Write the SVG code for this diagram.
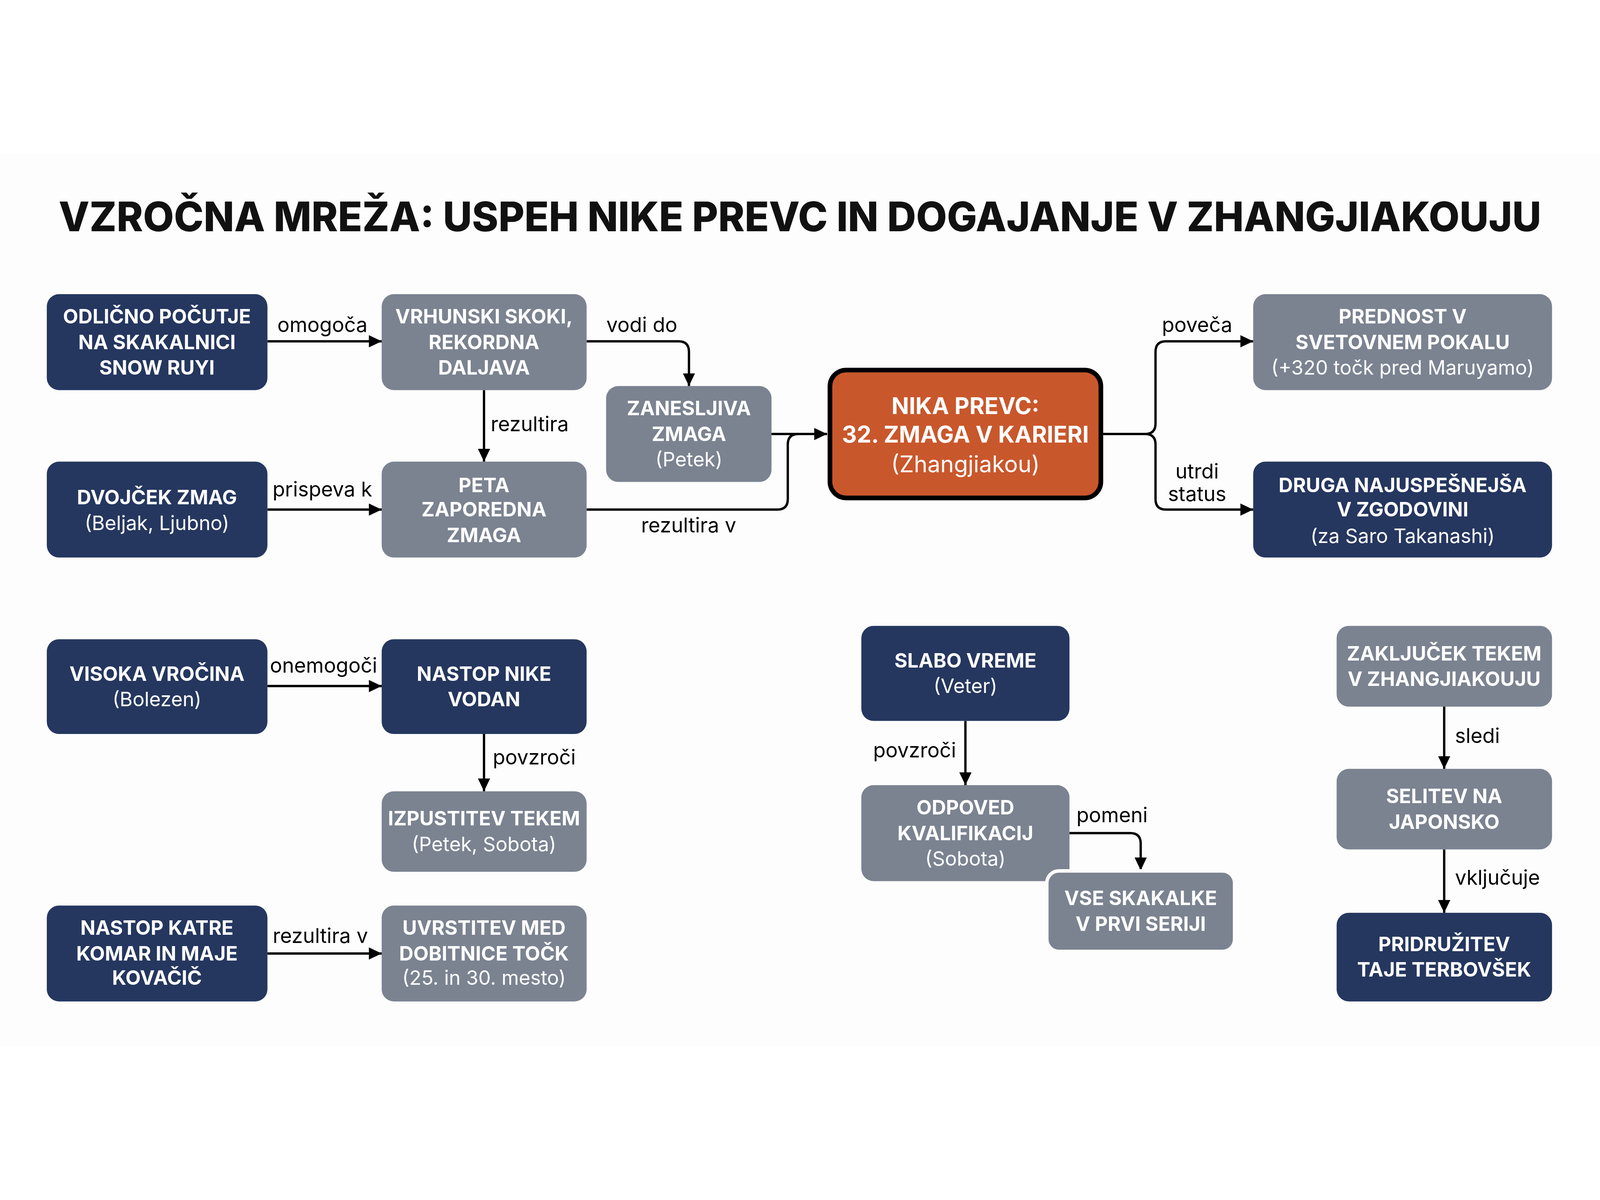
<svg xmlns="http://www.w3.org/2000/svg" width="5504" height="3072" viewBox="0 0 5504 3072">
<defs>
<marker id="ah" markerUnits="userSpaceOnUse" markerWidth="46" markerHeight="42" refX="44" refY="21" orient="auto">
<path d="M0,0 L44,21 L0,42 z" fill="#000"/>
</marker>
<style>
:root{width:100vw;height:100vh}
.navy{fill:#25375f}
.gray{fill:#7b8391}
.t{font-family:Inter,"Liberation Sans",sans-serif;font-size:68px;fill:#fff;text-anchor:middle}
.b{font-weight:700}
.r{font-weight:400}
.t.big{font-size:79px}
.lbl{font-family:Inter,"Liberation Sans",sans-serif;font-size:70px;fill:#000;font-weight:400}
.c{fill:none;stroke:#000;stroke-width:8;marker-end:url(#ah)}
.cn{fill:none;stroke:#000;stroke-width:8}
</style>
</defs>
<rect width="5504" height="3072" fill="#fdfdfd"/>
<text x="2752" y="268" font-family="Inter,'Liberation Sans',sans-serif" font-size="140" font-weight="800" text-anchor="middle" fill="#111" textLength="5100" lengthAdjust="spacingAndGlyphs">VZROČNA MREŽA: USPEH NIKE PREVC IN DOGAJANJE V ZHANGJIAKOUJU</text>

<g id="connectors">
<path class="c" d="M920 646 H1313"/>
<path class="c" d="M2018 646 H2334 Q2370 646 2370 682 V800"/>
<path class="c" d="M1665 814 V1060"/>
<path class="c" d="M920 1225 H1313"/>
<path class="c" d="M2654 965 H2845"/>
<path class="cn" d="M2018 1225 H2674 Q2710 1225 2710 1189 V1001 Q2710 965 2746 965 H2800"/>
<path class="c" d="M3795 965 H3939 Q3975 965 3975 929 V682 Q3975 646 4011 646 H4311"/>
<path class="c" d="M3939 965 Q3975 965 3975 1001 V1189 Q3975 1225 4011 1225 H4311"/>
<path class="c" d="M920 1832 H1313"/>
<path class="c" d="M1665 1997 V2194"/>
<path class="c" d="M920 2752 H1313"/>
<path class="c" d="M3321 1952 V2173"/>
<path class="c" d="M3679 2338 H3888 Q3924 2338 3924 2374 V2466"/>
<path class="c" d="M4968 1903 V2117"/>
<path class="c" d="M4968 2394 V2612"/>
<text class="lbl" x="1109" y="614" text-anchor="middle">omogoča</text>
<text class="lbl" x="2208" y="614" text-anchor="middle">vodi do</text>
<text class="lbl" x="1688" y="956">rezultira</text>
<text class="lbl" x="1109" y="1180" text-anchor="middle">prispeva k</text>
<text class="lbl" x="2369" y="1304" text-anchor="middle">rezultira v</text>
<text class="lbl" x="4118" y="614" text-anchor="middle">poveča</text>
<text class="lbl" x="4118" y="1118" text-anchor="middle">utrdi</text>
<text class="lbl" x="4118" y="1196" text-anchor="middle">status</text>
<text class="lbl" x="1113" y="1786" text-anchor="middle">onemogoči</text>
<text class="lbl" x="1695" y="2102">povzroči</text>
<text class="lbl" x="1102" y="2716" text-anchor="middle">rezultira v</text>
<text class="lbl" x="3289" y="2077" text-anchor="end">povzroči</text>
<text class="lbl" x="3703" y="2300">pomeni</text>
<text class="lbl" x="5005" y="2028">sledi</text>
<text class="lbl" x="5005" y="2516">vključuje</text>
</g>

<g id="n1">
<rect class="navy" x="161" y="484" width="759" height="330" rx="42"/>
<text class="t b" x="540" y="585">ODLIČNO POČUTJE</text>
<text class="t b" x="540" y="673">NA SKAKALNICI</text>
<text class="t b" x="540" y="761">SNOW RUYI</text>
</g>
<g id="n2">
<rect class="gray" x="1313" y="484" width="705" height="330" rx="42"/>
<text class="t b" x="1665" y="585">VRHUNSKI SKOKI,</text>
<text class="t b" x="1665" y="673">REKORDNA</text>
<text class="t b" x="1665" y="761">DALJAVA</text>
</g>
<g id="n3">
<rect class="gray" x="2085" y="800" width="569" height="330" rx="42"/>
<text class="t b" x="2370" y="901">ZANESLJIVA</text>
<text class="t b" x="2370" y="989">ZMAGA</text>
<text class="t r" x="2370" y="1077">(Petek)</text>
</g>
<g id="n4">
<rect x="2855" y="745" width="932" height="440" rx="56" fill="#c9572c" stroke="#000" stroke-width="16"/>
<text class="t b big" x="3321" y="896">NIKA PREVC:</text>
<text class="t b big" x="3321" y="994">32. ZMAGA V KARIERI</text>
<text class="t r big" x="3321" y="1096">(Zhangjiakou)</text>
</g>
<g id="n5">
<rect class="gray" x="4311" y="484" width="1028" height="330" rx="42"/>
<text class="t b" x="4825" y="585">PREDNOST V</text>
<text class="t b" x="4825" y="673">SVETOVNEM POKALU</text>
<text class="t r" x="4825" y="761">(+320 točk pred Maruyamo)</text>
</g>
<g id="n6">
<rect class="navy" x="4311" y="1060" width="1028" height="330" rx="42"/>
<text class="t b" x="4825" y="1165">DRUGA NAJUSPEŠNEJŠA</text>
<text class="t b" x="4825" y="1249">V ZGODOVINI</text>
<text class="t r" x="4825" y="1340">(za Saro Takanashi)</text>
</g>
<g id="n7">
<rect class="navy" x="161" y="1060" width="759" height="330" rx="42"/>
<text class="t b" x="540" y="1207">DVOJČEK ZMAG</text>
<text class="t r" x="540" y="1295">(Beljak, Ljubno)</text>
</g>
<g id="n8">
<rect class="gray" x="1313" y="1060" width="705" height="330" rx="42"/>
<text class="t b" x="1665" y="1165">PETA</text>
<text class="t b" x="1665" y="1249">ZAPOREDNA</text>
<text class="t b" x="1665" y="1337">ZMAGA</text>
</g>
<g id="n9">
<rect class="navy" x="161" y="1671" width="759" height="326" rx="42"/>
<text class="t b" x="540" y="1814">VISOKA VROČINA</text>
<text class="t r" x="540" y="1902">(Bolezen)</text>
</g>
<g id="n10">
<rect class="navy" x="1313" y="1671" width="705" height="326" rx="42"/>
<text class="t b" x="1665" y="1814">NASTOP NIKE</text>
<text class="t b" x="1665" y="1902">VODAN</text>
</g>
<g id="n11">
<rect class="gray" x="1313" y="2194" width="705" height="277" rx="42"/>
<text class="t b" x="1665" y="2312">IZPUSTITEV TEKEM</text>
<text class="t r" x="1665" y="2400">(Petek, Sobota)</text>
</g>
<g id="n12">
<rect class="navy" x="161" y="2587" width="759" height="330" rx="42"/>
<text class="t b" x="540" y="2688">NASTOP KATRE</text>
<text class="t b" x="540" y="2776">KOMAR IN MAJE</text>
<text class="t b" x="540" y="2860">KOVAČIČ</text>
</g>
<g id="n13">
<rect class="gray" x="1313" y="2587" width="705" height="330" rx="42"/>
<text class="t b" x="1665" y="2688">UVRSTITEV MED</text>
<text class="t b" x="1665" y="2776">DOBITNICE TOČK</text>
<text class="t r" x="1665" y="2860">(25. in 30. mesto)</text>
</g>
<g id="n14">
<rect class="navy" x="2963" y="1625" width="716" height="327" rx="42"/>
<text class="t b" x="3321" y="1768">SLABO VREME</text>
<text class="t r" x="3321" y="1856">(Veter)</text>
</g>
<g id="n15">
<rect class="gray" x="2963" y="2173" width="716" height="330" rx="42"/>
<text class="t b" x="3321" y="2274">ODPOVED</text>
<text class="t b" x="3321" y="2362">KVALIFIKACIJ</text>
<text class="t r" x="3321" y="2450">(Sobota)</text>
</g>
<g id="n16">
<rect class="gray" x="3601" y="2468" width="646" height="277" rx="42" stroke="#fdfdfd" stroke-width="12"/>
<text class="t b" x="3924" y="2586">VSE SKAKALKE</text>
<text class="t b" x="3924" y="2674">V PRVI SERIJI</text>
</g>
<g id="n17">
<rect class="gray" x="4598" y="1625" width="741" height="278" rx="42"/>
<text class="t b" x="4968" y="1744">ZAKLJUČEK TEKEM</text>
<text class="t b" x="4968" y="1832">V ZHANGJIAKOUJU</text>
</g>
<g id="n18">
<rect class="gray" x="4598" y="2117" width="741" height="277" rx="42"/>
<text class="t b" x="4968" y="2235">SELITEV NA</text>
<text class="t b" x="4968" y="2323">JAPONSKO</text>
</g>
<g id="n19">
<rect class="navy" x="4598" y="2612" width="741" height="305" rx="42"/>
<text class="t b" x="4968" y="2744">PRIDRUŽITEV</text>
<text class="t b" x="4968" y="2832">TAJE TERBOVŠEK</text>
</g>
</svg>
